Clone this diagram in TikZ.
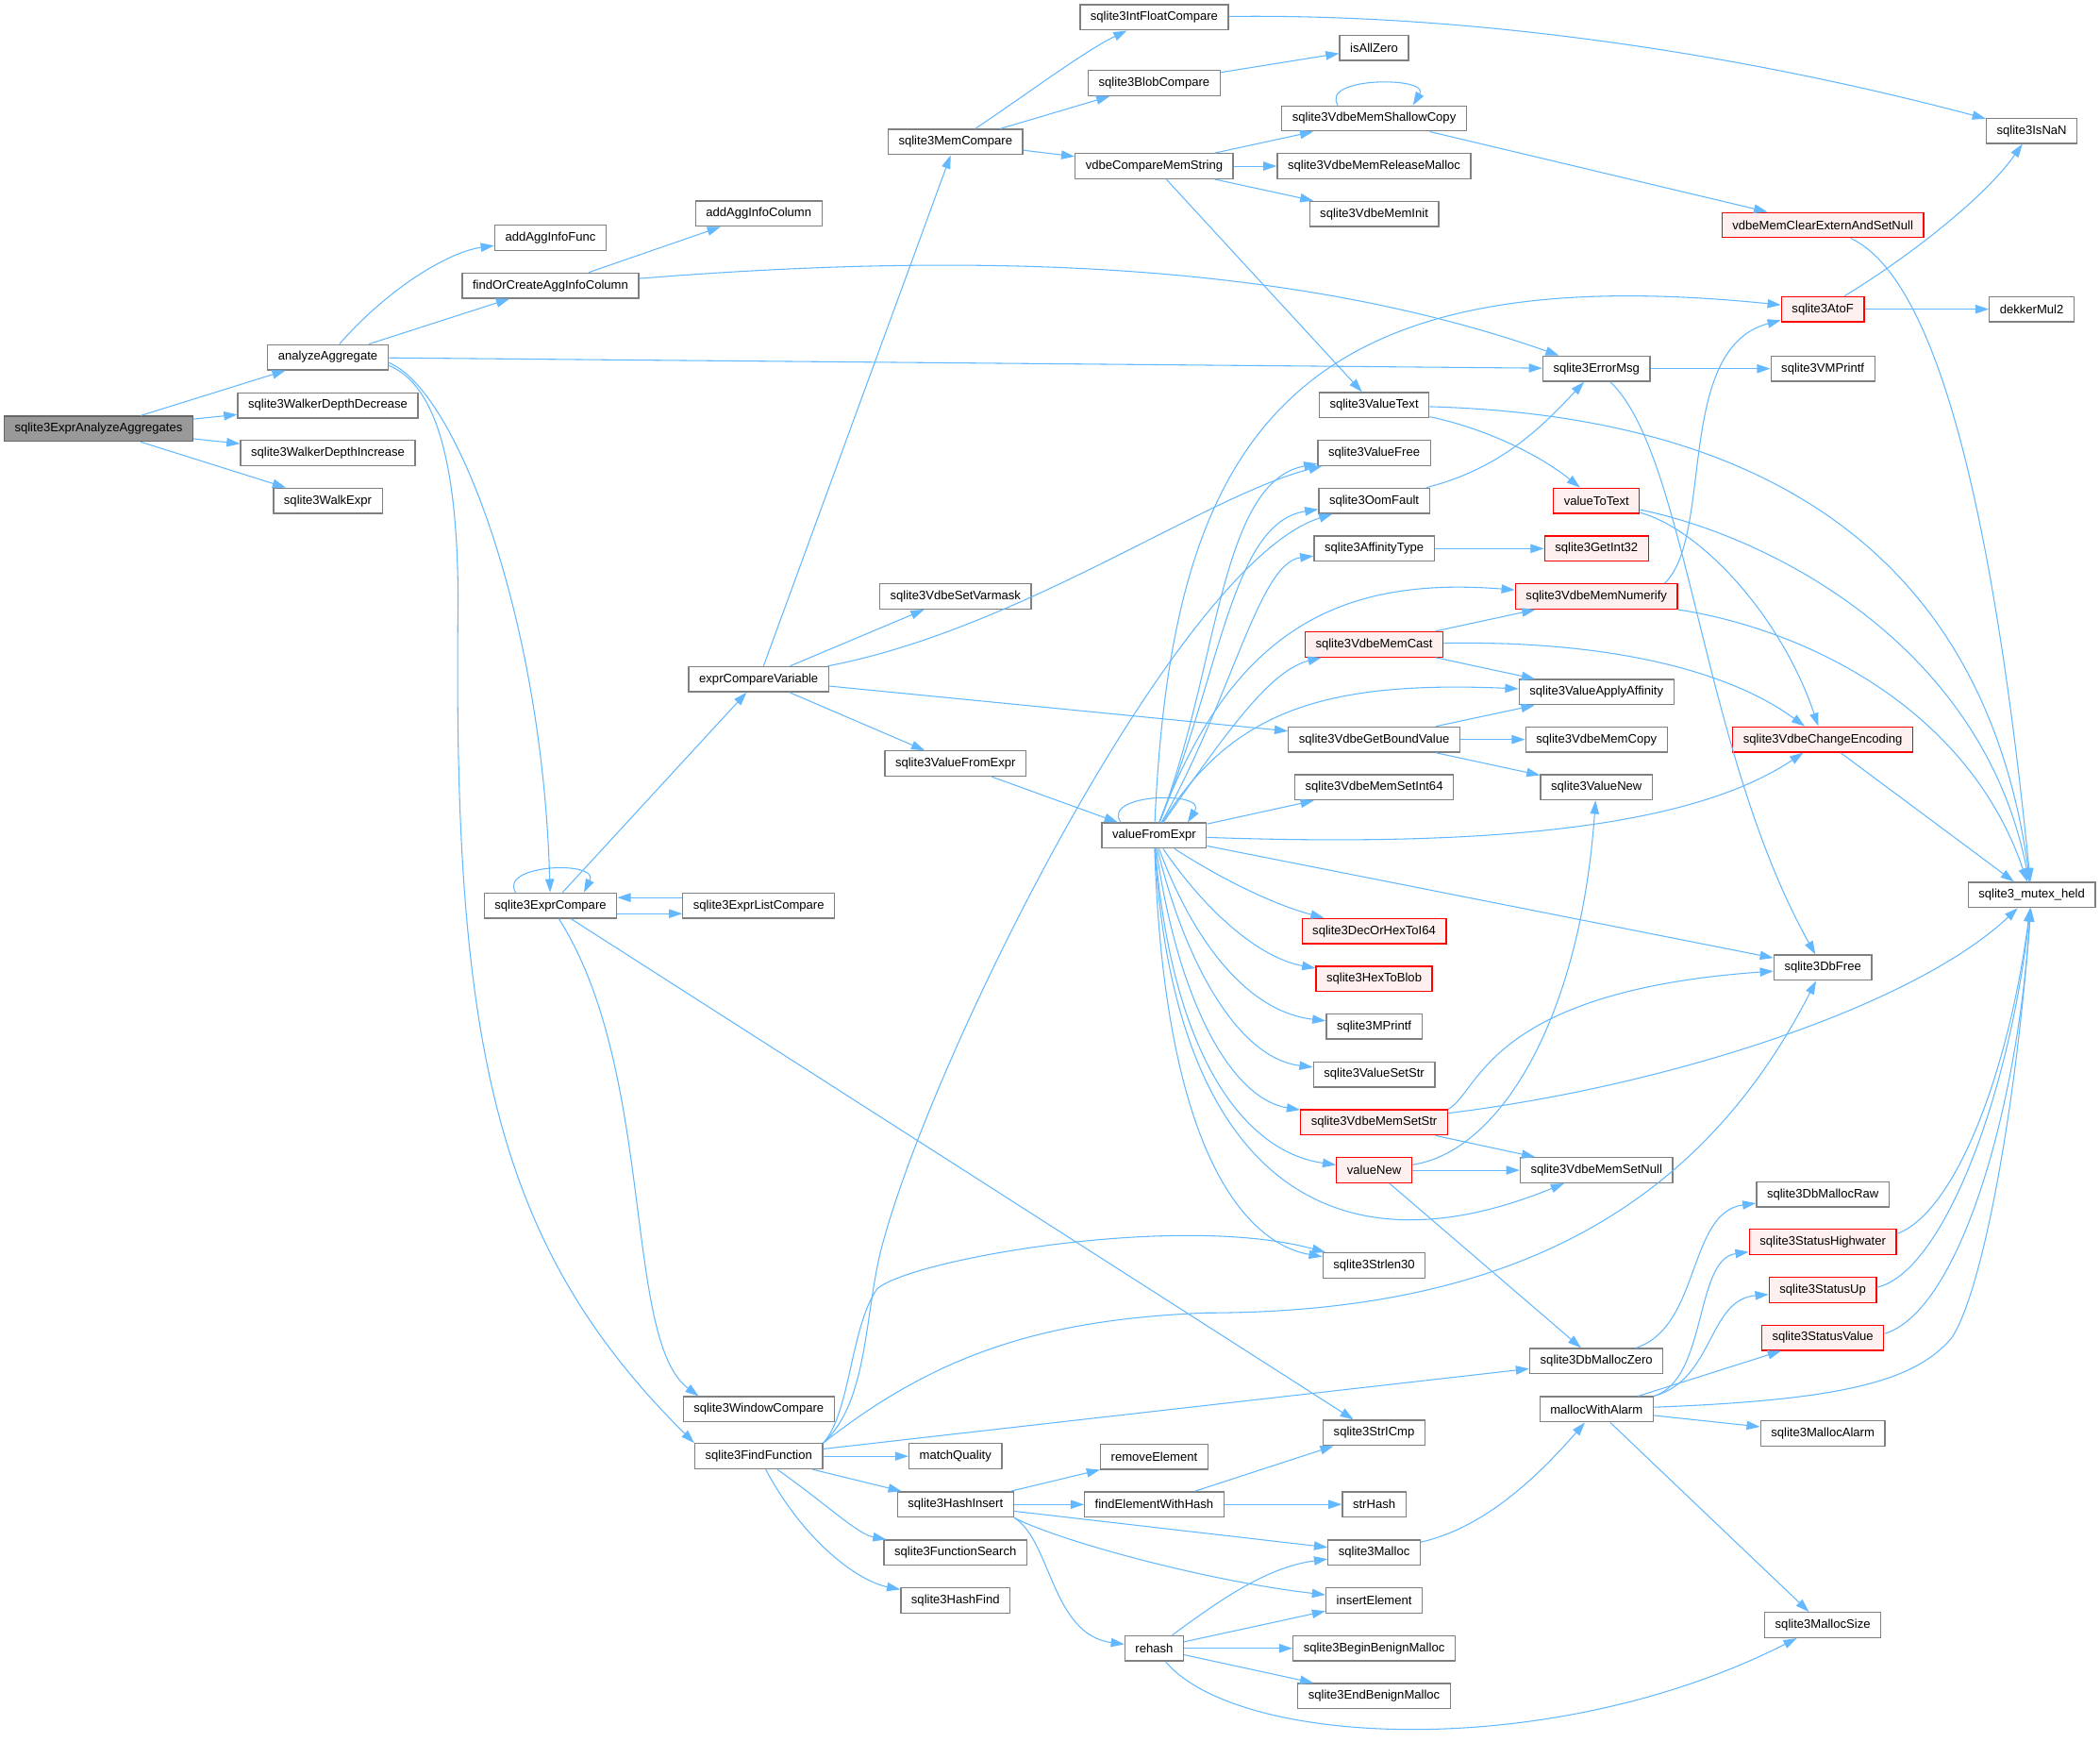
\documentclass[tikz,border=0pt]{standalone}
\usepackage{fontspec}
\setmainfont{Liberation Sans}
\usetikzlibrary{arrows.meta}
\definecolor{edgeblue}{HTML}{63B8FF}
\definecolor{boxgray}{HTML}{808080}
\definecolor{boxred}{HTML}{FF0000}
\definecolor{boxpink}{HTML}{FFF0F0}
\definecolor{rootgray}{HTML}{999999}
\begin{document}
\begin{tikzpicture}[x=1pt,y=-1pt,
fnbox/.style={draw=boxgray,fill=white,line width=0.9pt,inner xsep=7.8pt,inner ysep=0pt,minimum height=18.8pt,font=\fontsize{9.2}{11}\selectfont},
fnred/.style={fnbox,draw=boxred,fill=boxpink},
fnroot/.style={fnbox,draw=boxgray!80!black,fill=rootgray},
call/.style={draw=edgeblue,line width=0.75pt,-{Triangle[length=10pt,width=6.6pt]}}]
\useasboundingbox(0,0)rectangle(1568,1299.7);
\node[fnroot](exprAnalyzeAggregates)at(73.6,320){sqlite3ExprAnalyzeAggregates};
\node[fnbox](analyzeAggregate)at(244.8,266.7){analyzeAggregate};
\node[fnbox](walkerDepthDecrease)at(244.8,302.6){sqlite3WalkerDepthDecrease};
\node[fnbox](walkerDepthIncrease)at(244.8,338.2){sqlite3WalkerDepthIncrease};
\node[fnbox](walkExpr)at(244.8,373.8){sqlite3WalkExpr};
\node[fnbox](addAggInfoFunc)at(411,177.6){addAggInfoFunc};
\node[fnbox](findOrCreateAggInfoColumn)at(411,213.2){findOrCreateAggInfoColumn};
\node[fnbox](exprCompare)at(411,676){sqlite3ExprCompare};
\node[fnbox](addAggInfoColumn)at(566.5,159.5){addAggInfoColumn};
\node[fnbox](exprCompareVariable)at(566.5,507){exprCompareVariable};
\node[fnbox](exprListCompare)at(566.5,676){sqlite3ExprListCompare};
\node[fnbox](windowCompare)at(566.5,1052){sqlite3WindowCompare};
\node[fnbox](findFunction)at(566.5,1087){sqlite3FindFunction};
\node[fnbox](memCompare)at(713.4,106){sqlite3MemCompare};
\node[fnbox](vdbeSetVarmask)at(713.4,445.2){sqlite3VdbeSetVarmask};
\node[fnbox](sqlValueFromExpr)at(713.4,570){sqlite3ValueFromExpr};
\node[fnbox](matchQuality)at(713.4,1087){matchQuality};
\node[fnbox](hashInsert)at(713.4,1123){sqlite3HashInsert};
\node[fnbox](functionSearch)at(713.4,1159){sqlite3FunctionSearch};
\node[fnbox](hashFind)at(713.4,1194.7){sqlite3HashFind};
\node[fnbox](intFloatCompare)at(861.8,13){sqlite3IntFloatCompare};
\node[fnbox](blobCompare)at(861.8,62){sqlite3BlobCompare};
\node[fnbox](vdbeCompareMemString)at(861.8,124){vdbeCompareMemString};
\node[fnbox](valueFromExpr)at(861.8,623.7){valueFromExpr};
\node[fnbox](removeElement)at(861.8,1087.4){removeElement};
\node[fnbox](findElementWithHash)at(861.8,1123){findElementWithHash};
\node[fnbox](rehash)at(861.8,1230.4){rehash};
\node[fnbox](isAllZero)at(1026,35.7){isAllZero};
\node[fnbox](memShallowCopy)at(1026,88.4){sqlite3VdbeMemShallowCopy};
\node[fnbox](memReleaseMalloc)at(1026,124){sqlite3VdbeMemReleaseMalloc};
\node[fnbox](memInit)at(1026,159.7){sqlite3VdbeMemInit};
\node[fnbox](valueText)at(1026,302.4){sqlite3ValueText};
\node[fnbox](valueFree)at(1026,338){sqlite3ValueFree};
\node[fnbox](oomFault)at(1026,373.8){sqlite3OomFault};
\node[fnbox](affinityType)at(1026,409.5){sqlite3AffinityType};
\node[fnred](memCast)at(1026,481){sqlite3VdbeMemCast};
\node[fnbox](getBoundValue)at(1026,552){sqlite3VdbeGetBoundValue};
\node[fnbox](memSetInt64)at(1026,587.7){sqlite3VdbeMemSetInt64};
\node[fnred](decOrHexToI64)at(1026,695){sqlite3DecOrHexToI64};
\node[fnred](hexToBlob)at(1026,730.7){sqlite3HexToBlob};
\node[fnbox](mPrintf)at(1026,766.2){sqlite3MPrintf};
\node[fnbox](valueSetStr)at(1026,802){sqlite3ValueSetStr};
\node[fnred](memSetStr)at(1026,837.8){sqlite3VdbeMemSetStr};
\node[fnred](valueNew)at(1026,873.5){valueNew};
\node[fnbox](strlen30)at(1026,944.6){sqlite3Strlen30};
\node[fnbox](strICmp)at(1026,1069.5){sqlite3StrICmp};
\node[fnbox](strHash)at(1026,1123){strHash};
\node[fnbox](sqlMalloc)at(1026,1159){sqlite3Malloc};
\node[fnbox](insertElement)at(1026,1194.7){insertElement};
\node[fnbox](beginBenignMalloc)at(1026,1230.4){sqlite3BeginBenignMalloc};
\node[fnbox](endBenignMalloc)at(1026,1266){sqlite3EndBenignMalloc};
\node[fnbox](errorMsg)at(1192,275.2){sqlite3ErrorMsg};
\node[fnred](valueToText)at(1192,373.8){valueToText};
\node[fnred](getInt32)at(1192,409.5){sqlite3GetInt32};
\node[fnred](memNumerify)at(1192,445.2){sqlite3VdbeMemNumerify};
\node[fnbox](valueApplyAffinity)at(1192,516.6){sqlite3ValueApplyAffinity};
\node[fnbox](memCopy)at(1192,552){sqlite3VdbeMemCopy};
\node[fnbox](sqlValueNew)at(1192,587.7){sqlite3ValueNew};
\node[fnbox](memSetNull)at(1192,873.5){sqlite3VdbeMemSetNull};
\node[fnbox](dbMallocZero)at(1192,1016){sqlite3DbMallocZero};
\node[fnbox](mallocWithAlarm)at(1192,1052){mallocWithAlarm};
\node[fnred](memClearExtern)at(1361,168){vdbeMemClearExternAndSetNull};
\node[fnred](atoF)at(1361,230.8){sqlite3AtoF};
\node[fnbox](vmPrintf)at(1361,275.2){sqlite3VMPrintf};
\node[fnred](changeEncoding)at(1361,552){sqlite3VdbeChangeEncoding};
\node[fnbox](dbFree)at(1361,722.3){sqlite3DbFree};
\node[fnbox](dbMallocRaw)at(1361,891.5){sqlite3DbMallocRaw};
\node[fnred](statusHighwater)at(1361,927){sqlite3StatusHighwater};
\node[fnred](statusUp)at(1361,962.9){sqlite3StatusUp};
\node[fnred](statusValue)at(1361,998.5){sqlite3StatusValue};
\node[fnbox](mallocAlarm)at(1361,1070){sqlite3MallocAlarm};
\node[fnbox](mallocSize)at(1361,1213){sqlite3MallocSize};
\node[fnbox](isNaN)at(1517,97.7){sqlite3IsNaN};
\node[fnbox](dekkerMul2)at(1517,230.8){dekkerMul2};
\node[fnbox](mutexHeld)at(1517,668){sqlite3\_mutex\_held};
\draw[call](exprAnalyzeAggregates)--(analyzeAggregate);
\draw[call](exprAnalyzeAggregates)--(walkerDepthDecrease);
\draw[call](exprAnalyzeAggregates)--(walkerDepthIncrease);
\draw[call](exprAnalyzeAggregates)--(walkExpr);
\draw[call](analyzeAggregate)..controls(290,215)and(335,188)..(addAggInfoFunc);
\draw[call](analyzeAggregate)--(findOrCreateAggInfoColumn);
\draw[call](analyzeAggregate)--(errorMsg);
\draw[call]([yshift=-4pt]analyzeAggregate.east)..controls(340,290)and(405,460)..(exprCompare);
\draw[call]([yshift=-6pt]analyzeAggregate.east)..controls(320,285)and(342,330)..(342,450)..controls(338,780)and(370,930)..(findFunction.north west);
\draw[call](findOrCreateAggInfoColumn)--(addAggInfoColumn);
\draw[call](findOrCreateAggInfoColumn)..controls(700,190)and(950,190)..(errorMsg);
\draw[call]([xshift=-26pt]exprCompare.north)..controls(372,645)and(448,642)..([xshift=25pt]exprCompare.north);
\draw[call](exprCompare)--(exprCompareVariable);
\draw[call]([yshift=-6pt]exprCompare.east)--([yshift=-6pt]exprListCompare.west);
\draw[call]([yshift=6pt]exprListCompare.west)--([yshift=6pt]exprCompare.east);
\draw[call](exprCompare)..controls(490,800)and(465,1000)..([xshift=12pt]windowCompare.north west);
\draw[call](exprCompare)--(strICmp);
\draw[call](exprCompareVariable)--(memCompare);
\draw[call](exprCompareVariable)..controls(760,470)and(900,370)..(valueFree);
\draw[call](exprCompareVariable)--(vdbeSetVarmask);
\draw[call](exprCompareVariable)--(getBoundValue);
\draw[call](exprCompareVariable)--(sqlValueFromExpr);
\draw[call](memCompare)..controls(770,68)and(810,38)..(intFloatCompare);
\draw[call](memCompare)--(blobCompare);
\draw[call](memCompare)--(vdbeCompareMemString);
\draw[call](intFloatCompare)..controls(1100,10)and(1300,40)..(isNaN);
\draw[call](blobCompare)--(isAllZero);
\draw[call](vdbeCompareMemString)--(memShallowCopy);
\draw[call](vdbeCompareMemString)--(memReleaseMalloc);
\draw[call](vdbeCompareMemString)--(memInit);
\draw[call](vdbeCompareMemString)--(valueText);
\draw[call]([xshift=-27pt]memShallowCopy.north)..controls(985,57)and(1068,57)..([xshift=29pt]memShallowCopy.north);
\draw[call](memShallowCopy)--(memClearExtern);
\draw[call](memClearExtern)..controls(1450,210)and(1490,400)..(mutexHeld);
\draw[call](atoF)..controls(1420,195)and(1480,150)..(isNaN);
\draw[call](atoF)--(dekkerMul2);
\draw[call](errorMsg)--(vmPrintf);
\draw[call](errorMsg)..controls(1260,340)and(1270,560)..(dbFree);
\draw[call](valueText)..controls(1110,320)and(1150,340)..(valueToText);
\draw[call](valueText)..controls(1300,310)and(1480,400)..(mutexHeld);
\draw[call](oomFault)..controls(1120,350)and(1150,320)..(errorMsg);
\draw[call](affinityType)--(getInt32);
\draw[call](valueToText)..controls(1270,395)and(1330,460)..(changeEncoding);
\draw[call](valueToText)..controls(1320,400)and(1480,480)..(mutexHeld);
\draw[call]([xshift=-10pt]memNumerify.north east)..controls(1280,400)and(1250,260)..(atoF);
\draw[call](memNumerify.south east)..controls(1350,470)and(1470,530)..(mutexHeld);
\draw[call](memCast)--(memNumerify);
\draw[call](memCast)--(valueApplyAffinity);
\draw[call](memCast)..controls(1200,478)and(1290,500)..(changeEncoding);
\draw[call](getBoundValue)--(valueApplyAffinity);
\draw[call](getBoundValue)--(memCopy);
\draw[call](getBoundValue)--(sqlValueNew);
\draw[call](changeEncoding)--(mutexHeld);
\draw[call](sqlValueFromExpr)--(valueFromExpr);
\draw[call]([xshift=-25pt]valueFromExpr.north)..controls(822,592)and(902,590)..([xshift=25pt]valueFromExpr.north);
\draw[call](valueFromExpr)..controls(875,330)and(960,190)..(atoF);
\draw[call](valueFromExpr)..controls(910,500)and(910,360)..(valueFree);
\draw[call](valueFromExpr)..controls(912,500)and(920,390)..(oomFault);
\draw[call](valueFromExpr)..controls(920,520)and(940,420)..(affinityType);
\draw[call](valueFromExpr)..controls(920,470)and(1000,430)..(memNumerify);
\draw[call](valueFromExpr)..controls(920,540)and(950,500)..(memCast);
\draw[call](valueFromExpr)..controls(920,530)and(990,508)..(valueApplyAffinity);
\draw[call](valueFromExpr)--(memSetInt64);
\draw[call](valueFromExpr)..controls(1100,632)and(1260,620)..(changeEncoding);
\draw[call](valueFromExpr)..controls(910,655)and(950,675)..(decOrHexToI64);
\draw[call](valueFromExpr)..controls(900,680)and(940,715)..(hexToBlob);
\draw[call](valueFromExpr)..controls(890,700)and(930,755)..(mPrintf);
\draw[call](valueFromExpr)..controls(885,720)and(925,790)..(valueSetStr);
\draw[call](valueFromExpr)..controls(880,750)and(920,820)..(memSetStr);
\draw[call](valueFromExpr)..controls(875,790)and(930,860)..(valueNew);
\draw[call](valueFromExpr)..controls(875,860)and(980,960)..(memSetNull);
\draw[call](valueFromExpr)..controls(870,880)and(940,930)..(strlen30);
\draw[call](valueFromExpr)--(dbFree);
\draw[call](memSetStr.north east)..controls(1105,815)and(1110,740)..(dbFree);
\draw[call](memSetStr)..controls(1250,810)and(1430,750)..(mutexHeld);
\draw[call](memSetStr)--(memSetNull);
\draw[call](valueNew)..controls(1120,860)and(1180,760)..(sqlValueNew);
\draw[call](valueNew)--(memSetNull);
\draw[call](valueNew)--(dbMallocZero);
\draw[call](dbMallocZero)..controls(1270,990)and(1260,905)..(dbMallocRaw);
\draw[call]([yshift=6pt]statusHighwater.east)..controls(1460,905)and(1500,800)..(mutexHeld);
\draw[call]([yshift=2pt]statusUp.east)..controls(1450,950)and(1500,820)..(mutexHeld);
\draw[call]([yshift=3pt]statusValue.east)..controls(1460,980)and(1505,840)..(mutexHeld);
\draw[call](mallocWithAlarm.north east)..controls(1275,1030)and(1265,940)..(statusHighwater);
\draw[call](mallocWithAlarm.north east)..controls(1280,1030)and(1275,970)..(statusUp);
\draw[call](mallocWithAlarm)--(statusValue);
\draw[call](mallocWithAlarm)--(mallocAlarm);
\draw[call](mallocWithAlarm)--(mallocSize);
\draw[call](mallocWithAlarm)..controls(1380,1045)and(1430,1030)..(1457,999)..controls(1480,965)and(1505,830)..(mutexHeld);
\draw[call](sqlMalloc)..controls(1110,1140)and(1150,1100)..(mallocWithAlarm);
\draw[call](findFunction.north east)..controls(650,1045)and(645,975)..(660,925)..controls(700,780)and(880,420)..(oomFault);
\draw[call](findFunction.north east)..controls(635,1055)and(635,990)..(655,962)..controls(680,940)and(880,905)..(strlen30);
\draw[call](findFunction.north east)..controls(700,1010)and(780,985)..(900,980)..controls(1130,980)and(1270,900)..(dbFree);
\draw[call](findFunction)--(dbMallocZero);
\draw[call](findFunction)--(matchQuality);
\draw[call](findFunction)--(hashInsert);
\draw[call](findFunction)..controls(620,1125)and(640,1145)..(functionSearch);
\draw[call](findFunction)..controls(600,1150)and(640,1180)..(hashFind);
\draw[call](hashInsert)--(removeElement);
\draw[call](hashInsert)--(findElementWithHash);
\draw[call](hashInsert)--(sqlMalloc);
\draw[call](hashInsert.south east)..controls(790,1150)and(900,1180)..(insertElement);
\draw[call](hashInsert.south east)..controls(785,1150)and(785,1220)..(rehash);
\draw[call](findElementWithHash)--(strICmp);
\draw[call](findElementWithHash)--(strHash);
\draw[call](rehash)..controls(910,1195)and(945,1170)..(sqlMalloc);
\draw[call](rehash)--(insertElement);
\draw[call](rehash)--(beginBenignMalloc);
\draw[call](rehash)--(endBenignMalloc);
\draw[call](rehash)..controls(925,1305)and(1160,1315)..(mallocSize);
\end{tikzpicture}
\end{document}
